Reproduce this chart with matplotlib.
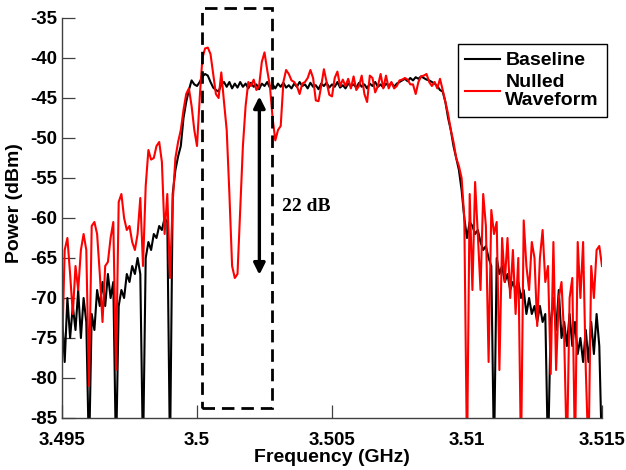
import numpy as np
import matplotlib
matplotlib.use("Agg")
import matplotlib.pyplot as plt
from matplotlib.patches import Rectangle

plt.rcParams['font.family'] = ['Liberation Sans', 'DejaVu Sans']
plt.rcParams['axes.unicode_minus'] = False

# Frequency grid (GHz), 0.1 MHz steps from 3.495 to 3.515
freq = np.linspace(3.495, 3.515, 201)

baseline = [
    -72, -78, -70, -75, -71, -74, -69, -75, -70, -73,
    -90, -72, -74, -69, -71, -68, -71, -67, -70, -68,
    -90, -71, -69, -70, -67, -68, -66, -67, -65, -67,
    -90, -65, -63, -64, -62, -62.5, -61, -61.5, -60, -60.5,
    -90, -57, -54, -52.3, -51, -47.5, -45.5, -44, -42.8, -43.3,
    -43.5, -43, -42.3, -42, -42.2, -43, -43.7, -44, -44.2, -43.3,
    -43, -43.6, -43.0, -43.8, -43.2, -43.7, -43.0, -43.6, -43.2, -43.8,
    -43.1, -43.6, -43.3, -43.9, -43.2, -43.5, -43.0, -43.7, -43.3, -43.8,
    -43.2, -43.6, -43.1, -43.7, -43.4, -43.8, -43.2, -43.6, -43.0, -43.5,
    -43.3, -43.8, -43.1, -43.6, -43.4, -43.9, -43.2, -43.5, -43.1, -43.7,
    -43.3, -43.6, -43.0, -43.7, -43.4, -43.8, -43.2, -43.5, -43.3, -43.7,
    -43.1, -43.6, -43.3, -43.8, -43.2, -43.5, -43.0, -43.6, -43.3, -43.7,
    -43.2, -43.5, -43.1, -43.6, -43.2, -43.0, -42.8, -42.6, -42.9, -42.5,
    -42.8, -42.4, -42.6, -42.3, -42.5, -42.7, -42.8, -43.0, -43.2, -43.5,
    -44, -44.2, -45.5, -47.5, -49, -51, -52.5, -54, -56.5, -60,
    -62.5, -60.5, -61, -62, -61.5, -63, -64, -63.5, -65, -66,
    -90, -65, -67, -66, -68, -67, -69, -68, -69, -68,
    -70, -69, -72, -70, -72, -71, -73, -71, -73, -72,
    -90, -73, -70, -74, -69, -75, -73, -76, -72, -76,
    -73, -77, -75, -78, -74, -78, -73, -77, -72, -76,
    -90,
]

nulled = [
    -77, -64, -62.5, -67, -72, -66, -69, -64, -62, -64,
    -81, -61, -60.5, -62, -67, -73, -66, -65.5, -62.5, -60.5,
    -79, -58, -57, -60, -61.5, -61, -63, -64, -62, -57.5,
    -66, -56, -51.5, -52.7, -52.5, -51, -50.5, -53, -62, -57,
    -67.5, -58, -52.5, -50.5, -49, -46.5, -44.5, -43.8, -46, -49,
    -51, -45, -40, -38.8, -38.7, -39.5, -42, -44.5, -45, -41.8,
    -45.5, -49, -57, -66, -67.5, -67, -59, -51, -46, -43,
    -43.5, -42.7, -44, -43.5, -40.5, -39.3, -41.5, -43.5, -47.5, -50.3,
    -49, -48.5, -43, -41.5, -42, -42.8, -43, -43.5, -44.5, -43.2,
    -43, -42.5, -41.5, -42.5, -45.3, -45.4, -43.5, -41.4, -43, -44.6,
    -44.8, -42.5, -41.7, -43.5, -42.7, -43.5, -42.6, -43.8, -42.3, -44,
    -43.5, -42.2, -44.5, -45.5, -42.2, -42.5, -44.3, -43.5, -42, -43.8,
    -42.2, -43.8, -43, -43.8, -43.5, -42.8, -42.7, -42.5, -42.7, -43.3,
    -43.3, -44.5, -43, -42.3, -42.2, -42, -43, -43.5, -43, -43.8,
    -42.6, -44, -45.5, -47, -49, -50.5, -52.5, -53.5, -55, -60,
    -90, -57, -69, -55.5, -62, -69, -57, -61, -78, -59,
    -62, -60.5, -79, -62.5, -68, -62.5, -70, -64, -72, -65,
    -90, -60.3, -66, -69, -63, -65, -73.5, -65, -61.5, -68,
    -66, -79.5, -63, -79, -70, -68, -75, -90, -70, -67.5,
    -90, -63, -70, -63, -79, -90, -66, -70, -64, -63.5,
    -66,
]

xticks = [3.495, 3.5, 3.505, 3.51, 3.515]
xticklabels = ['3.495', '3.5', '3.505', '3.51', '3.515']
yticks = [-85, -80, -75, -70, -65, -60, -55, -50, -45, -40, -35]
yticklabels = [str(v) for v in yticks]

W, H = 626, 470
fig = plt.figure(figsize=(W / 100, H / 100), dpi=100)
ax = fig.add_axes([62 / W, 52 / H, 540 / W, 400 / H])

ax.plot(freq, baseline, color='black', lw=1.5, label='Baseline')
ax.plot(freq, nulled, color='#ff0000', lw=1.5, label='Nulled\nWaveform')

ax.set_xlim(3.495, 3.515)
ax.set_ylim(-85, -35)
ax.set_xticks(xticks)
ax.set_xticklabels(xticklabels)
ax.set_yticks(yticks)
ax.set_yticklabels(yticklabels)

for s in ['top', 'right']:
    ax.spines[s].set_visible(False)
for s in ['left', 'bottom']:
    ax.spines[s].set_color('#404040')
    ax.spines[s].set_linewidth(1.0)

ax.tick_params(axis='both', direction='in', length=9.5, width=0.9,
               color='#404040', labelsize=13.5)
ax.tick_params(axis='x', pad=10)
ax.tick_params(axis='y', pad=3.5)
for lab in ax.get_xticklabels() + ax.get_yticklabels():
    lab.set_fontweight('bold')

fig.text(332 / W, 1 - 458 / H, 'Frequency (GHz)', ha='center', va='center',
         fontsize=14, fontweight='bold')
fig.text(15 / W, 1 - 203 / H, 'Power (dBm)', ha='center', va='center',
         rotation=90, fontsize=14, fontweight='bold')

# dashed box around the nulled region
box = Rectangle((3.50020, -83.75), 3.50279 - 3.50020, 50.0, fill=False,
                edgecolor='black', lw=2.0, linestyle=(0, (4.5, 2.5)),
                clip_on=False, zorder=5)
ax.add_patch(box)

# double arrow for the 22 dB depth
ax.annotate('', xy=(3.50231, -67.1), xytext=(3.50231, -44.8),
            arrowprops=dict(arrowstyle='<|-|>', color='black', lw=2.4,
                            mutation_scale=17, shrinkA=0, shrinkB=0),
            zorder=6)
ax.text(3.50315, -58.6, '22 dB', ha='left', va='center', fontsize=14,
        fontweight='bold', family=['Liberation Serif', 'DejaVu Serif'])

leg = ax.legend(loc='upper left', bbox_to_anchor=(0.7328, 0.935),
                borderaxespad=0, fancybox=False, framealpha=1,
                edgecolor='black', prop={'weight': 'bold', 'size': 14},
                handlelength=1.75, handletextpad=0.3, borderpad=0.4,
                labelspacing=0.25)
leg.get_frame().set_linewidth(1.0)
for line in leg.get_lines():
    line.set_linewidth(1.5)
for t in leg.get_texts():
    t.set_linespacing(1.05)

fig.savefig('out.png', dpi=100)
